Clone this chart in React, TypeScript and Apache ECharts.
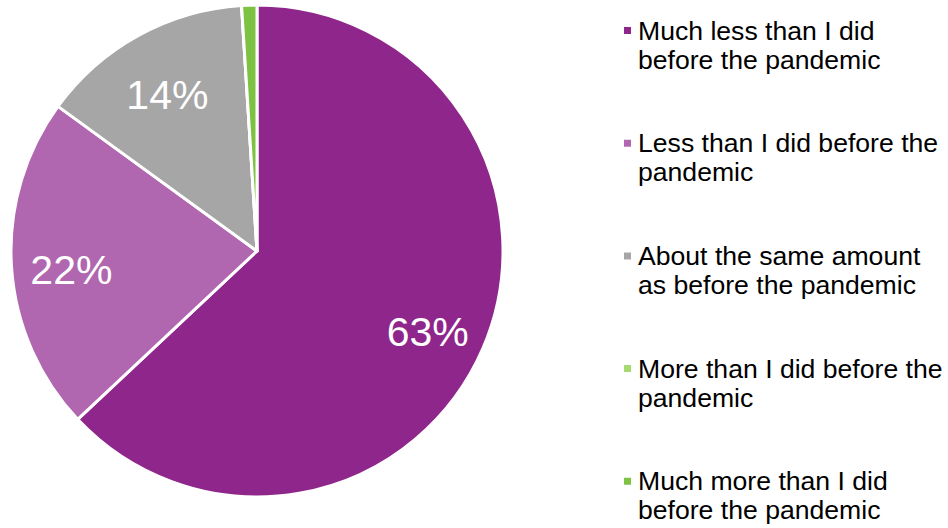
import React, { useEffect, useRef } from "react";
import * as echarts from "echarts";

const categories = [
  "Much less than I did before the pandemic",
  "Less than I did before the pandemic",
  "About the same amount as before the pandemic",
  "More than I did before the pandemic",
  "Much more than I did before the pandemic",
];
const legendLabels = [
  "Much less than I did\nbefore the pandemic",
  "Less than I did before the\npandemic",
  "About the same amount\nas before the pandemic",
  "More than I did before the\npandemic",
  "Much more than I did\nbefore the pandemic",
];
const values = [63, 22, 14, 0, 1];
const colors = ["#8E268B", "#B067B0", "#A6A6A6", "#A6D96F", "#7DC242"];

export default function App() {
  const ref = useRef<HTMLDivElement>(null);
  useEffect(() => {
    document.body.style.margin = "0";
    const chart = echarts.init(ref.current!, null, { renderer: "svg" });
    const data = categories.map((name, i) => ({ name, value: values[i], itemStyle: { color: colors[i] } }));
    const font = "'Liberation Sans', Arial, Helvetica, sans-serif";
    chart.setOption({
      animation: false,
      color: colors,
      legend: {
        orient: "vertical",
        left: 622,
        top: -13,
        padding: 0,
        itemWidth: 9,
        itemHeight: 9,
        itemGap: 25.7,
        icon: "rect",
        selectedMode: false,
        data: categories,
        formatter: (name: string) => " \n" + legendLabels[categories.indexOf(name)],
        textStyle: {
          fontFamily: font,
          fontSize: 26.6,
          lineHeight: 29,
          color: "#000",
          padding: [0, 0, 0, 1],
        },
      },
      series: [
        {
          type: "pie",
          center: [257, 251],
          radius: [0, 246],
          startAngle: 90,
          clockwise: true,
          silent: true,
          data,
          itemStyle: { borderColor: "#fff", borderWidth: 3 },
          label: { show: false },
          labelLine: { show: false },
        },
        {
          type: "pie",
          center: [257, 251],
          radius: [120, 246],
          startAngle: 90,
          clockwise: true,
          silent: true,
          data: categories.map((name, i) => ({ name, value: values[i] })),
          itemStyle: { color: "transparent", borderWidth: 0 },
          label: {
            show: true,
            position: "inside",
            formatter: (p: any) => (p.value >= 5 ? p.value + "%" : ""),
            color: "#fff",
            fontFamily: font,
            fontSize: 41,
          },
          labelLayout: { dy: 7 },
          labelLine: { show: false },
        },
      ],
    });
    return () => chart.dispose();
  }, []);
  return <div ref={ref} style={{ width: 948, height: 528 }} />;
}
